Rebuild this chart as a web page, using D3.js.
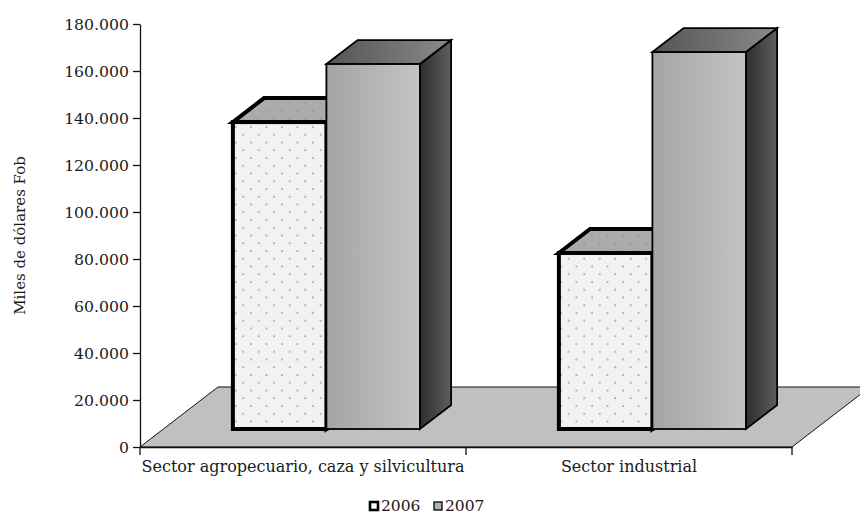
<!DOCTYPE html>
<html>
<head>
<meta charset="utf-8">
<script src="https://cdn.jsdelivr.net/npm/d3@7"></script>
<style>
  body { margin: 0; background: white; }
  #myPlot { width: 860px; height: 515px; }
  text { font-family: "DejaVu Serif", serif; fill: #1a1a1a; }
</style>
</head>
<body>
<div id="myPlot"></div>
<script>
const categories = ["Sector agropecuario, caza y silvicultura", "Sector industrial"]
const series = ["2006", "2007"]
const values2006 = [130600, 74900]
const values2007 = [155300, 160400]
const yTicks = [0, 20000, 40000, 60000, 80000, 100000, 120000, 140000, 160000, 180000]
const yTitle = "Miles de dólares Fob"

const rootSelector = "#myPlot"
const width = 860
const height = 515
const plot = {left: 140, right: 792, top: 24, bottom: 447}
const depth = {dx: 78, dy: 60}        // floor depth
const barFront = 0.3, barBack = 0.7    // bars sit in the middle of the floor depth

const svg = d3.select(rootSelector).append("svg")
    .attr("width", width)
    .attr("height", height)

const defs = svg.append("defs")

function dots(id, bg) {
    const p = defs.append("pattern")
        .attr("id", id)
        .attr("patternUnits", "userSpaceOnUse")
        .attr("width", 15.5).attr("height", 15.5)
    p.append("rect").attr("width", 15.5).attr("height", 15.5).attr("fill", bg)
    p.append("circle").attr("cx", 3).attr("cy", 3).attr("r", 0.9).attr("fill", "#8a8a8a")
    p.append("circle").attr("cx", 10.75).attr("cy", 10.75).attr("r", 0.9).attr("fill", "#8a8a8a")
}
dots("dotsFront", "#f2f2f2")
dots("dotsTop", "#ababab")

function gradient(id, stops, x2, y2) {
    const g = defs.append("linearGradient")
        .attr("id", id)
        .attr("x1", 0).attr("y1", 0).attr("x2", x2).attr("y2", y2)
    stops.forEach(s => g.append("stop").attr("offset", s[0]).attr("stop-color", s[1]))
}
gradient("front07", [[0, "#a4a4a4"], [1, "#c4c4c4"]], 1, 0)
gradient("side07", [[0, "#2e2e2e"], [1, "#5e5e5e"]], 1, 0)
gradient("top07", [[0, "#545454"], [1, "#8a8a8a"]], 1, 0)

const y = d3.scaleLinear()
    .domain([0, 180000])
    .range([plot.bottom, plot.top])

const x0 = d3.scaleBand()
    .domain(categories)
    .range([plot.left, plot.right])

const x1 = d3.scaleBand()
    .domain(series)
    .range([0, x0.bandwidth()])
    .paddingOuter(0.743)

// floor
const floor = [
    [plot.left, plot.bottom],
    [plot.left + depth.dx, plot.bottom - depth.dy],
    [plot.right + depth.dx, plot.bottom - depth.dy],
    [plot.right, plot.bottom]
]
svg.append("path")
    .attr("d", d3.line()(floor) + "Z")
    .attr("fill", "#c0c0c0")
    .attr("stroke", "#111")
    .attr("stroke-width", 1)

// bars
const ox = depth.dx * barFront, oy = depth.dy * barFront
const bx = depth.dx * (barBack - barFront), by = depth.dy * (barBack - barFront)

const styles = {
    "2006": {front: "url(#dotsFront)", top: "url(#dotsTop)", side: "#666", stroke: 4},
    "2007": {front: "url(#front07)", top: "url(#top07)", side: "url(#side07)", stroke: 1.8}
}

const data = []
categories.forEach((c, i) => {
    data.push({cat: c, s: "2006", v: values2006[i]})
    data.push({cat: c, s: "2007", v: values2007[i]})
})

const barG = svg.append("g").attr("class", "bars")
data.forEach(d => {
    const st = styles[d.s]
    const xl = x0(d.cat) + x1(d.s) + ox
    const xr = xl + x1.bandwidth()
    const yt = y(d.v) - oy
    const yb = y(0) - oy
    const g = barG.append("g").attr("stroke", "#000").attr("stroke-linejoin", "miter")
        .attr("stroke-width", st.stroke)
    g.append("path")
        .attr("d", d3.line()([[xr, yt], [xr + bx, yt - by], [xr + bx, yb - by], [xr, yb]]) + "Z")
        .attr("fill", st.side)
    g.append("path")
        .attr("d", d3.line()([[xl, yt], [xl + bx, yt - by], [xr + bx, yt - by], [xr, yt]]) + "Z")
        .attr("fill", st.top)
    g.append("rect")
        .attr("x", xl).attr("y", yt)
        .attr("width", xr - xl).attr("height", yb - yt)
        .attr("fill", st.front)
})

// y axis
const fmt = d3.formatLocale({decimal: ",", thousands: ".", grouping: [3], currency: ["", ""]}).format(",d")
const yAxis = d3.axisLeft(y)
    .tickValues(yTicks)
    .tickFormat(fmt)
    .tickSize(7)
    .tickSizeOuter(0)
    .tickPadding(4)

const yG = svg.append("g")
    .attr("transform", `translate(${plot.left}, 0)`)
    .call(yAxis)
yG.selectAll("text").style("font-size", "15.7px").attr("fill", "#1a1a1a")
yG.selectAll("line, path").attr("stroke", "#111").attr("stroke-width", 1.3)

// x axis
const xAxis = d3.axisBottom(x0).tickSize(0).tickPadding(14)
const xG = svg.append("g")
    .attr("transform", `translate(0, ${plot.bottom})`)
    .call(xAxis)
xG.select(".domain").attr("stroke", "#111").attr("stroke-width", 1.3)
xG.selectAll("text").style("font-size", "16px").attr("fill", "#1a1a1a")
const bounds = categories.map(c => x0(c)).concat([plot.right])
xG.selectAll(".bound")
    .data(bounds)
    .enter().append("line")
    .attr("x1", d => d).attr("x2", d => d)
    .attr("y1", 0).attr("y2", 8)
    .attr("stroke", "#111").attr("stroke-width", 1.3)

// y title
svg.append("text")
    .attr("transform", `translate(25, ${(plot.top + plot.bottom) / 2}) rotate(-90)`)
    .attr("text-anchor", "middle")
    .style("font-size", "15px")
    .text(yTitle)

// legend
const legend = svg.append("g").attr("transform", "translate(369, 501)")
const legendItems = [
    {s: "2006", x: 0, fill: "#fff", sw: 2.6},
    {s: "2007", x: 64, fill: "#b4b4b4", sw: 1.3}
]
legendItems.forEach(l => {
    legend.append("rect")
        .attr("x", l.x + 1).attr("y", 1)
        .attr("width", 8).attr("height", 8)
        .attr("fill", l.fill).attr("stroke", "#000").attr("stroke-width", l.sw)
    legend.append("text")
        .attr("x", l.x + 12).attr("y", 10)
        .style("font-size", "15.5px")
        .text(l.s)
})
</script>
</body>
</html>
